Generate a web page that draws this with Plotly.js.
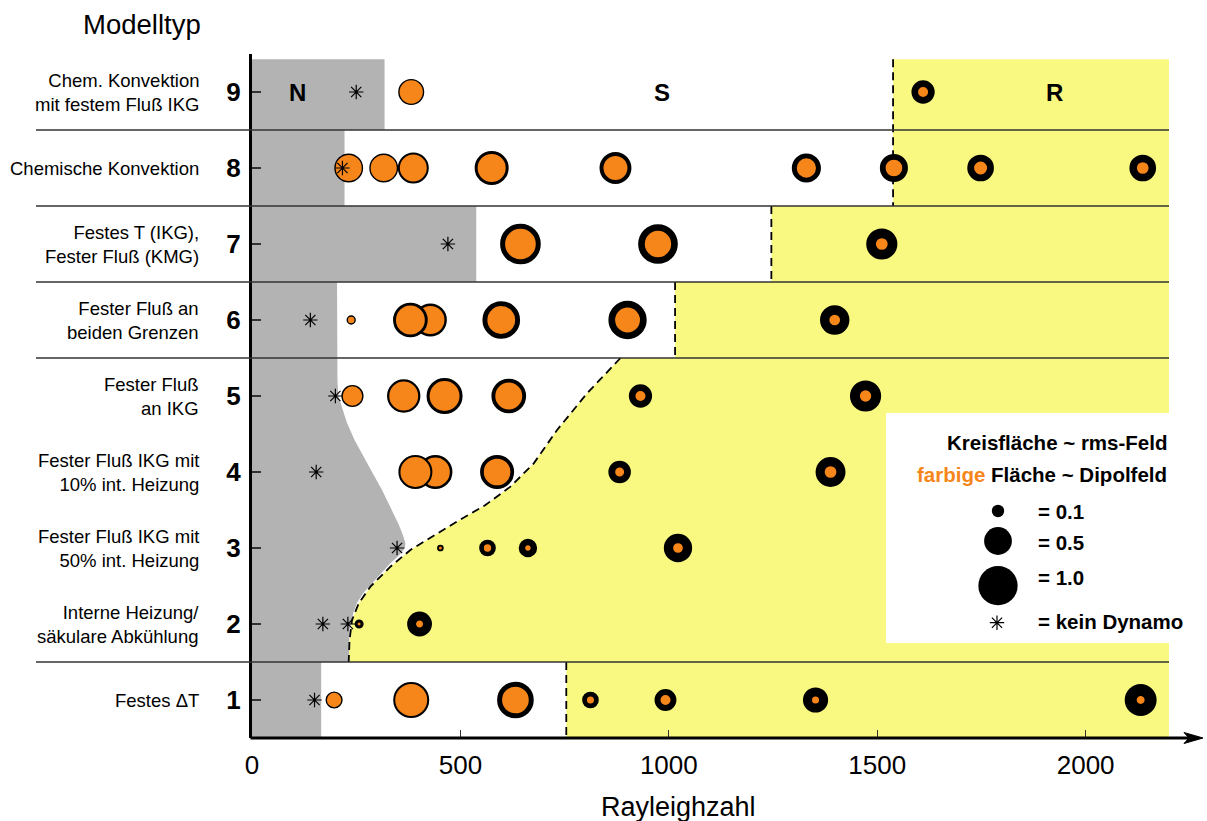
<!DOCTYPE html>
<html><head><meta charset="utf-8">
<script src="https://cdn.plot.ly/plotly-3.0.1.min.js"></script>
<style>html,body{margin:0;padding:0;background:#fff}</style>
</head><body><div id="chart" style="width:1207px;height:821px"></div>
<script>
// ---------------- data ----------------
const rowNumbers = [1, 2, 3, 4, 5, 6, 7, 8, 9];
const rowLabels = [
  'Festes ΔT',
  'Interne Heizung/<br>säkulare Abkühlung',
  'Fester Fluß IKG mit<br>50% int. Heizung',
  'Fester Fluß IKG mit<br>10% int. Heizung',
  'Fester Fluß<br>an IKG',
  'Fester Fluß an<br>beiden Grenzen',
  'Festes T (IKG),<br>Fester Fluß (KMG)',
  'Chemische Konvektion',
  'Chem. Konvektion<br>mit festem Fluß IKG'
];
const xTickVals = [0, 500, 1000, 1500, 2000];
const groupBounds = [1.5, 5.5, 6.5, 7.5, 8.5];

// dynamo runs: model type, Rayleigh number, rms field, dipole field
const dynRow = [9, 9,
  8, 8, 8, 8, 8, 8, 8, 8, 8,
  7, 7, 7,
  6, 6, 6, 6, 6, 6,
  5, 5, 5, 5, 5, 5,
  4, 4, 4, 4, 4,
  3, 3, 3, 3,
  2, 2,
  1, 1, 1, 1, 1, 1, 1];
const dynRa = [382, 1610,
  232, 316, 387, 575, 872, 1330, 1540, 1748, 2137,
  644, 974, 1511,
  238, 428, 380, 598, 901, 1398,
  241, 364, 462, 616, 932, 1472,
  440, 392, 588, 882, 1388,
  452, 565, 662, 1022,
  257, 402,
  197, 382, 632, 812, 992, 1352, 2132];
const dynRms = [0.44, 0.35,
  0.54, 0.54, 0.62, 0.75, 0.66, 0.55, 0.51, 0.46, 0.46,
  1.07, 1.02, 0.63,
  0.056, 0.70, 0.78, 0.92, 0.95, 0.56,
  0.32, 0.72, 0.84, 0.78, 0.35, 0.63,
  0.75, 0.75, 0.75, 0.33, 0.58,
  0.029, 0.18, 0.22, 0.52,
  0.052, 0.40,
  0.19, 0.84, 0.87, 0.18, 0.31, 0.41, 0.66];
const dynDip = [0.37, 0.065,
  0.47, 0.47, 0.47, 0.51, 0.37, 0.24, 0.18, 0.11, 0.089,
  0.61, 0.45, 0.089,
  0.04, 0.51, 0.54, 0.50, 0.40, 0.074,
  0.27, 0.54, 0.58, 0.47, 0.065, 0.083,
  0.54, 0.58, 0.46, 0.052, 0.089,
  0.006, 0.035, 0.02, 0.061,
  0.006, 0.032,
  0.15, 0.66, 0.46, 0.032, 0.065, 0.032, 0.041];

// runs without dynamo
const noDynRow = [9, 8, 7, 6, 5, 4, 3, 2, 2, 1];
const noDynRa = [250, 217, 470, 140, 200, 154, 348, 170, 230, 150];

// regime N (no dynamo) polygon
const nRegionRa = [0, 318, 318, 222, 222, 538, 538, 204, 205, 207, 216, 228, 246, 267, 290, 312, 336, 352, 362, 368, 367, 360, 346, 332, 314, 296, 280, 267, 252, 243, 234, 232, 166, 166, 0];
const nRegionY  = [9.43, 9.43, 8.5, 8.5, 7.5, 7.5, 6.5, 6.5, 5.21, 5.01, 4.85, 4.645, 4.42, 4.20, 3.98, 3.763, 3.5, 3.31, 3.17, 3.066, 3.0, 2.947, 2.87, 2.80, 2.69, 2.579, 2.49, 2.408, 2.28, 2.145, 1.92, 1.5, 1.5, 0.5, 0.5];

// regime R (reversing) polygon
const rRegionRa = [2200, 1538, 1538, 1246, 1246, 1015, 1015, 884, 804, 732, 676, 620, 560, 492, 436, 380, 332, 284, 256, 240, 234, 232, 754, 754, 2200];
const rRegionY  = [9.43, 9.43, 7.5, 7.5, 6.5, 6.5, 5.5, 5.5, 5.036, 4.553, 4.114, 3.807, 3.566, 3.349, 3.158, 2.974, 2.754, 2.491, 2.272, 2.053, 1.789, 1.5, 1.5, 0.5, 0.5];

// dashed S/R boundary
const srBoundRa = [1538, 1538, null, 1246, 1246, null, 1015, 1015, null,
  884, 804, 732, 676, 620, 560, 492, 436, 380, 332, 284, 256, 240, 234, 232, null, 754, 754];
const srBoundY  = [9.43, 7.5, null, 7.5, 6.5, null, 6.5, 5.5, null,
  5.5, 5.036, 4.553, 4.114, 3.807, 3.566, 3.349, 3.158, 2.974, 2.754, 2.491, 2.272, 2.053, 1.789, 1.5, null, 1.5, 0.5];

const legendValues = [0.1, 0.5, 1.0];
const legendLabels = ['= 0.1', '= 0.5', '= 1.0'];

// ---------------- layout helpers ----------------
const W = 1207, H = 821, ML = 252, MR = 38, MT = 54, MB = 83;
const PW = W - ML - MR, PH = H - MT - MB;
const XMAX = 2200, YMIN = 0.5, YMAX = 9.5;
const pxX = px => (px - ML) / PW;            // page px -> paper
const pxY = py => (H - MB - py) / PH;
const dX = px => (px - ML) / PW * XMAX;      // page px -> data
const dY = py => YMIN + (H - MB - py) / PH * (YMAX - YMIN);

const FONT = 'Liberation Sans, Arial, Helvetica, sans-serif';
const ORANGE = '#f7861a';
const GRAY = '#b3b3b3';
const YELLOW = '#f9f981';
const K = 39.3; // px diameter for field = 1.0

const dOut = dynRms.map(v => K * Math.sqrt(v));
const dIn = dynDip.map(v => K * Math.sqrt(v));
const lineW = dOut.map((d, i) => Math.max((d - dIn[i]) / 2, 1.4));
const mSize = dOut.map((d, i) => d - lineW[i]);

const traces = [
  {x: nRegionRa, y: nRegionY, mode: 'lines', fill: 'toself', fillcolor: GRAY,
   line: {width: 0, color: GRAY}, hoverinfo: 'skip'},
  {x: rRegionRa, y: rRegionY, mode: 'lines', fill: 'toself', fillcolor: YELLOW,
   line: {width: 0, color: YELLOW}, hoverinfo: 'skip'},
  {x: [dX(886), 2400, 2400, dX(886)], y: [dY(413), dY(413), dY(643), dY(643)],
   mode: 'lines', fill: 'toself', fillcolor: '#ffffff', line: {width: 0, color: '#fff'}, hoverinfo: 'skip'},
  {x: srBoundRa, y: srBoundY, mode: 'lines', connectgaps: false,
   line: {color: '#000', width: 1.8, dash: '8px,5px'}, hoverinfo: 'skip'},
  {x: dynRa, y: dynRow, mode: 'markers', cliponaxis: false,
   marker: {symbol: 'circle', size: mSize, color: ORANGE, opacity: 1,
            line: {color: '#000', width: lineW}}},
  {x: noDynRa, y: noDynRow, mode: 'markers', cliponaxis: false,
   marker: {symbol: 'asterisk-open', size: 12, color: '#000', opacity: 1, line: {color: '#000', width: 1.2}}},
  {x: legendValues.map(() => dX(998)), y: [dY(511), dY(541), dY(585.7)], mode: 'markers',
   marker: {symbol: 'circle', size: legendValues.map(v => K * Math.sqrt(v)), color: '#000', opacity: 1, line: {width: 0}}},
  {x: [dX(997)], y: [dY(622.7)], mode: 'markers',
   marker: {symbol: 'asterisk-open', size: 12, color: '#000', opacity: 1, line: {color: '#000', width: 1.2}}}
];

const shapes = [];
groupBounds.forEach(b => {
  shapes.push({type: 'line', xref: 'paper', yref: 'paper', x0: pxX(36), x1: 1,
    y0: (b - YMIN) / (YMAX - YMIN), y1: (b - YMIN) / (YMAX - YMIN),
    line: {color: '#333', width: 1.4}, layer: 'above'});
});
// x-axis line with arrow
shapes.push({type: 'line', xref: 'paper', yref: 'paper', x0: pxX(250.5), x1: pxX(1190), y0: 0, y1: 0,
  line: {color: '#000', width: 3}, layer: 'above'});
shapes.push({type: 'path', xref: 'paper', yref: 'paper',
  path: `M ${pxX(1203)} ${pxY(738)} L ${pxX(1184)} ${pxY(732.5)} L ${pxX(1189)} ${pxY(738)} L ${pxX(1184)} ${pxY(743.5)} Z`,
  fillcolor: '#000', line: {color: '#000', width: 1}, layer: 'above'});

const annotations = [];
rowNumbers.forEach((r, i) => {
  annotations.push({xref: 'paper', yref: 'y', x: pxX(201), y: r, xanchor: 'right', yanchor: 'middle',
    text: rowLabels[i], align: 'right', showarrow: false, font: {family: FONT, size: 18.5, color: '#000'}});
});
annotations.push({xref: 'paper', yref: 'paper', x: pxX(203), y: pxY(24), xanchor: 'right', yanchor: 'middle',
  text: 'Modelltyp', showarrow: false, font: {family: FONT, size: 27.5, color: '#000'}});
annotations.push({xref: 'paper', yref: 'paper', x: pxX(678), y: pxY(807), xanchor: 'center', yanchor: 'middle',
  text: 'Rayleighzahl', showarrow: false, font: {family: FONT, size: 27, color: '#000'}});
[['N', 108], ['S', 983], ['R', 1926]].forEach(([t, xv]) => {
  annotations.push({xref: 'x', yref: 'y', x: xv, y: 9, text: '<b>' + t + '</b>', showarrow: false,
    font: {family: FONT, size: 24, color: '#000'}});
});
annotations.push({xref: 'paper', yref: 'paper', x: pxX(1169), y: pxY(442.7), xanchor: 'right', yanchor: 'middle',
  text: '<b>Kreisfläche ~ rms-Feld</b>', showarrow: false, font: {family: FONT, size: 20.5, color: '#000'}});
annotations.push({xref: 'paper', yref: 'paper', x: pxX(1169), y: pxY(475), xanchor: 'right', yanchor: 'middle',
  text: '<b><span style="color:' + ORANGE + '">farbige</span> Fläche ~ Dipolfeld</b>', showarrow: false,
  font: {family: FONT, size: 20.5, color: '#000'}});
[511, 541, 576.7].forEach((py, i) => {
  annotations.push({xref: 'paper', yref: 'paper', x: pxX(1036), y: pxY(py + 1), xanchor: 'left', yanchor: 'middle',
    text: '<b>' + legendLabels[i] + '</b>', showarrow: false, font: {family: FONT, size: 20.5, color: '#000'}});
});
annotations.push({xref: 'paper', yref: 'paper', x: pxX(1036), y: pxY(621.7), xanchor: 'left', yanchor: 'middle',
  text: '<b>= kein Dynamo</b>', showarrow: false, font: {family: FONT, size: 20.5, color: '#000'}});

const layout = {
  width: W, height: H, margin: {l: ML, r: MR, t: MT, b: MB, pad: 0},
  paper_bgcolor: '#fff', plot_bgcolor: '#fff', showlegend: false, hovermode: false,
  font: {family: FONT, color: '#000'},
  xaxis: {range: [0, XMAX], showgrid: false, zeroline: false, showline: false,
    ticks: 'inside', ticklen: 8, tickwidth: 1.2, tickcolor: '#333',
    tickmode: 'array', tickvals: xTickVals, ticktext: xTickVals.map(String), ticklabelstandoff: 9,
    tickfont: {family: FONT, size: 26, color: '#000'}, fixedrange: true},
  yaxis: {range: [YMIN, YMAX], showgrid: false, zeroline: false, showline: true, linewidth: 3, linecolor: '#000',
    ticks: 'inside', ticklen: 9, tickwidth: 1.2, tickcolor: '#333',
    tickmode: 'array', tickvals: rowNumbers, ticktext: rowNumbers.map(n => '<b>' + n + '</b>'),
    ticklabelstandoff: 3,
    tickfont: {family: FONT, size: 26, color: '#000'}, fixedrange: true},
  shapes: shapes, annotations: annotations
};

Plotly.newPlot('chart', traces, layout, {displayModeBar: false, staticPlot: true});
</script>
</body></html>
